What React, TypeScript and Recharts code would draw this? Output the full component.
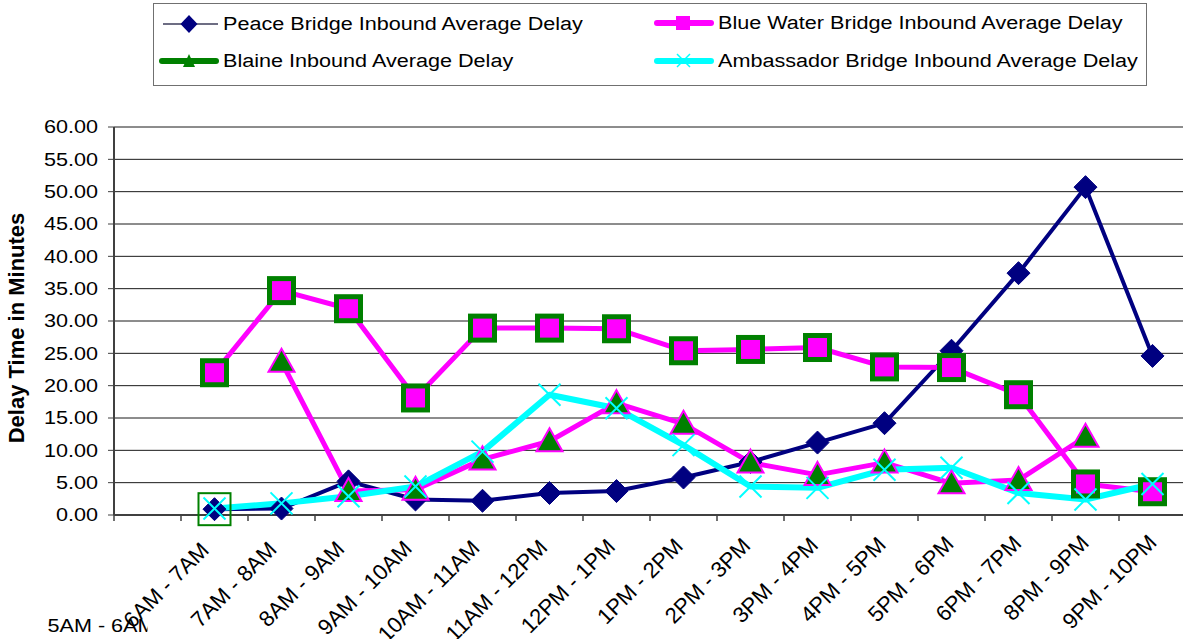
import React from 'react';
import { LineChart, Line, XAxis, YAxis, CartesianGrid, Legend } from 'recharts';

const categories = [
  '5AM - 6AM', '6AM - 7AM', '7AM - 8AM', '8AM - 9AM', '9AM - 10AM', '10AM - 11AM',
  '11AM - 12PM', '12PM - 1PM', '1PM - 2PM', '2PM - 3PM', '3PM - 4PM', '4PM - 5PM',
  '5PM - 6PM', '6PM - 7PM', '8PM - 9PM', '9PM - 10PM',
];
const peaceBridgeDelay = [null, 0.9, 1.0, 5.2, 2.4, 2.2, 3.4, 3.7, 5.8, 8.2, 11.2, 14.2, 25.4, 37.4, 50.7, 24.6];
const blueWaterDelay = [null, 22.0, 34.7, 31.9, 18.1, 28.9, 28.9, 28.8, 25.4, 25.6, 25.9, 22.9, 22.8, 18.6, 4.8, 3.6];
const blaineDelay = [null, null, 23.7, 3.7, 3.9, 8.6, 11.4, 17.3, 14.1, 8.1, 6.2, 8.1, 4.9, 5.4, 12.1, null];
const ambassadorDelay = [null, 1.0, 1.8, 2.9, 4.4, 9.8, 18.6, 16.5, 10.8, 4.4, 4.2, 7.0, 7.3, 3.4, 2.4, 4.8];
// lone outlined square that sits on the 6AM - 7AM points
const strayMarker = [null, 0.9, null, null, null, null, null, null, null, null, null, null, null, null, null, null];
const yTicks = [0, 5, 10, 15, 20, 25, 30, 35, 40, 45, 50, 55, 60];

const data = categories.map((label, i) => ({
  label,
  peace: peaceBridgeDelay[i],
  blueWater: blueWaterDelay[i],
  blaine: blaineDelay[i],
  ambassador: ambassadorDelay[i],
  stray: strayMarker[i],
}));

const NAVY = '#000080';
const MAGENTA = '#ff00ff';
const GREEN = '#008000';
const CYAN = '#00ffff';
const AXIS = '#404040';
const FONT = '"Liberation Sans", Arial, sans-serif';
const STRETCH = 1.2;

function DiamondDot({ cx, cy, value }: any) {
  if (value == null || cx == null) return null;
  const r = 11.5;
  return <path d={`M${cx},${cy - r}L${cx + r},${cy}L${cx},${cy + r}L${cx - r},${cy}Z`} fill={NAVY} stroke={NAVY} />;
}

function SquareDot({ cx, cy, value }: any) {
  if (value == null || cx == null) return null;
  return <rect x={cx - 12} y={cy - 12} width={24} height={24} fill={MAGENTA} stroke={GREEN} strokeWidth={5} />;
}

function TriangleDot({ cx, cy, value }: any) {
  if (value == null || cx == null) return null;
  return (
    <polygon
      points={`${cx},${cy - 13} ${cx + 13},${cy + 10} ${cx - 13},${cy + 10}`}
      fill={GREEN}
      stroke={MAGENTA}
      strokeWidth={2}
    />
  );
}

function CrossDot({ cx, cy, value }: any) {
  if (value == null || cx == null) return null;
  const r = 11;
  return (
    <g stroke={CYAN} strokeWidth={2}>
      <line x1={cx - r} y1={cy - r} x2={cx + r} y2={cy + r} />
      <line x1={cx - r} y1={cy + r} x2={cx + r} y2={cy - r} />
    </g>
  );
}

function OutlineDot({ cx, cy, value }: any) {
  if (value == null || cx == null) return null;
  return <rect x={cx - 16} y={cy - 16} width={32} height={32} fill="none" stroke={GREEN} strokeWidth={2} />;
}

function ValueTick({ x, y, payload }: any) {
  return (
    <text
      transform={`translate(${x},${y}) scale(${STRETCH},1)`}
      dy="0.35em"
      textAnchor="end"
      fontSize={18}
      fontFamily={FONT}
      fill="#000"
    >
      {Number(payload.value).toFixed(2)}
    </text>
  );
}

function CategoryTick({ x, y, payload, index, width, visibleTicksCount }: any) {
  const axisY = y - 8;
  const band = width && visibleTicksCount ? width / visibleTicksCount : 67;
  const edge = x - band / 2;
  const mark = <line x1={edge} y1={axisY} x2={edge} y2={axisY + 6} stroke={AXIS} strokeWidth={1.5} />;
  if (index === 0) {
    return (
      <g>
        {mark}
        <clipPath id="first-category-clip">
          <rect x={0} y={axisY} width={x} height={130} />
        </clipPath>
        <g clipPath="url(#first-category-clip)">
          <text
            transform={`translate(${x - 100},${axisY + 117}) scale(${STRETCH},1)`}
            fontSize={18}
            fontFamily={FONT}
            fill="#000"
          >
            {payload.value}
          </text>
        </g>
      </g>
    );
  }
  // the original labels creep slightly right/up from left to right
  const dx = -5 + 0.7 * index;
  const dy = 37 - 0.55 * index;
  return (
    <g>
      {mark}
      <text
        transform={`translate(${x + dx},${axisY + dy}) rotate(-45)`}
        textAnchor="end"
        fontSize={22}
        fontFamily={FONT}
        fill="#000"
      >
        {payload.value}
      </text>
    </g>
  );
}

function AxisTitle() {
  return (
    <text
      transform="translate(24,328) rotate(-90)"
      textAnchor="middle"
      fontSize={22}
      fontWeight="bold"
      fontFamily={FONT}
      fill="#000"
    >
      Delay Time in Minutes
    </text>
  );
}

const legendSlots: Record<string, { left: number; top: number }> = {
  peace: { left: 5, top: 20 },
  blueWater: { left: 500, top: 19 },
  blaine: { left: 5, top: 57 },
  ambassador: { left: 500, top: 57 },
};

function LegendIcon({ kind }: { kind: string }) {
  if (kind === 'peace') {
    return (
      <>
        <line x1={4} y1={10} x2={59} y2={10} stroke="#3c3c5a" strokeWidth={1.5} />
        <path d="M30,1L38.5,10L30,19L21.5,10Z" fill={NAVY} />
      </>
    );
  }
  if (kind === 'blueWater') {
    return (
      <>
        <line x1={3} y1={10} x2={57} y2={10} stroke={MAGENTA} strokeWidth={6} strokeLinecap="round" />
        <rect x={22} y={3} width={14} height={14} fill={MAGENTA} />
      </>
    );
  }
  if (kind === 'blaine') {
    return (
      <>
        <line x1={3} y1={10} x2={57} y2={10} stroke={GREEN} strokeWidth={6} strokeLinecap="round" />
        <polygon points="30,3 36,16 24,16" fill={GREEN} />
      </>
    );
  }
  return (
    <>
      <line x1={3} y1={10} x2={57} y2={10} stroke={CYAN} strokeWidth={6} strokeLinecap="round" />
      <g stroke={CYAN} strokeWidth={1.5}>
        <line x1={23} y1={3} x2={36} y2={16} />
        <line x1={36} y1={3} x2={23} y2={16} />
      </g>
    </>
  );
}

function LegendBox({ payload }: any) {
  const items = (payload || []).filter((p: any) => legendSlots[p.dataKey]);
  return (
    <div
      style={{
        position: 'relative',
        width: 994,
        height: 83,
        boxSizing: 'border-box',
        border: '1px solid #707070',
        background: '#fff',
        fontFamily: FONT,
        fontSize: 18,
        color: '#000',
      }}
    >
      {items.map((item: any) => {
        const slot = legendSlots[item.dataKey];
        return (
          <React.Fragment key={item.dataKey}>
            <svg
              width={60}
              height={20}
              style={{ position: 'absolute', left: slot.left, top: slot.top - 10, overflow: 'visible' }}
            >
              <LegendIcon kind={item.dataKey} />
            </svg>
            <span
              style={{
                position: 'absolute',
                left: slot.left + 64,
                top: slot.top - 10,
                lineHeight: '20px',
                whiteSpace: 'nowrap',
                display: 'inline-block',
                transform: `scaleX(${STRETCH})`,
                transformOrigin: 'left center',
              }}
            >
              {item.value}
            </span>
          </React.Fragment>
        );
      })}
    </div>
  );
}

export default function App() {
  return (
    <div style={{ position: 'absolute', left: 0, top: 0, width: 1183, height: 639, overflow: 'hidden', background: '#fff' }}>
      <LineChart
        width={1190}
        height={639}
        data={data}
        margin={{ top: 127, right: 4, bottom: 94, left: 54 }}
        style={{ fontFamily: FONT }}
      >
        <CartesianGrid vertical={false} stroke="#1a1a1a" strokeWidth={1} />
        <XAxis
          dataKey="label"
          type="category"
          padding={{ left: 33.5, right: 33.5 }}
          interval={0}
          height={30}
          tickSize={6}
          tickMargin={2}
          tickLine={false}
          axisLine={{ stroke: AXIS, strokeWidth: 2 }}
          tick={<CategoryTick />}
        />
        <YAxis
          domain={[0, 60]}
          ticks={yTicks}
          interval={0}
          width={60}
          tickSize={6}
          tickMargin={10}
          tickLine={{ stroke: AXIS }}
          axisLine={{ stroke: AXIS, strokeWidth: 2 }}
          tick={<ValueTick />}
          label={AxisTitle}
        />
        <Legend
          verticalAlign="middle"
          align="center"
          content={<LegendBox />}
          wrapperStyle={{ left: 153, top: 3, width: 994, height: 83 }}
        />
        <Line
          dataKey="stray"
          name="stray"
          stroke="none"
          legendType="none"
          dot={<OutlineDot />}
          activeDot={false}
          isAnimationActive={false}
        />
        <Line
          dataKey="peace"
          name="Peace Bridge Inbound Average Delay"
          stroke={NAVY}
          strokeWidth={4}
          strokeLinejoin="round"
          dot={<DiamondDot />}
          activeDot={false}
          isAnimationActive={false}
        />
        <Line
          dataKey="blaine"
          name="Blaine Inbound Average Delay"
          stroke={MAGENTA}
          strokeWidth={5}
          strokeLinejoin="round"
          dot={<TriangleDot />}
          activeDot={false}
          isAnimationActive={false}
        />
        <Line
          dataKey="blueWater"
          name="Blue Water Bridge Inbound Average Delay"
          stroke={MAGENTA}
          strokeWidth={5}
          strokeLinejoin="round"
          dot={<SquareDot />}
          activeDot={false}
          isAnimationActive={false}
        />
        <Line
          dataKey="ambassador"
          name="Ambassador Bridge Inbound Average Delay"
          stroke={CYAN}
          strokeWidth={6}
          strokeLinejoin="round"
          dot={<CrossDot />}
          activeDot={false}
          isAnimationActive={false}
        />
      </LineChart>
    </div>
  );
}
